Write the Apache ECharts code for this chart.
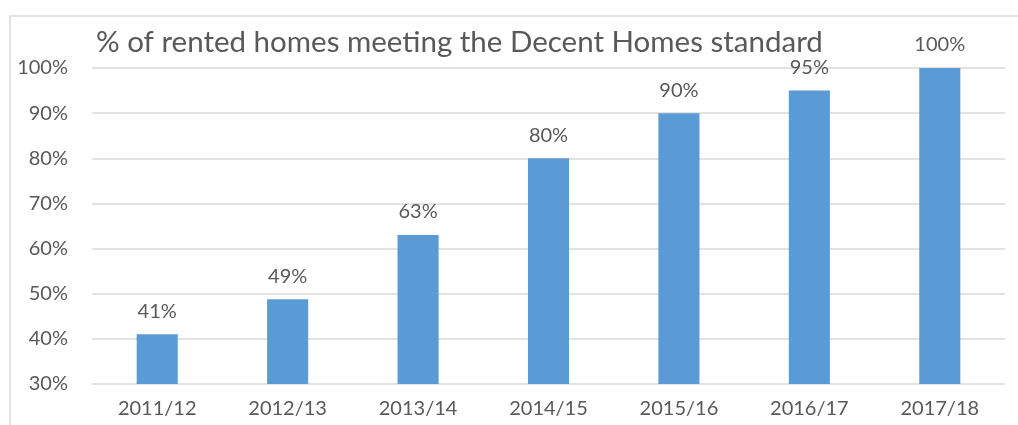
<!DOCTYPE html>
<html lang="en">
<head>
    <meta charset="UTF-8">
    <title>Decent Homes standard</title>
    <script src="https://cdn.jsdelivr.net/npm/echarts@6/dist/echarts.min.js" type="text/javascript"></script>
    <style>
        html, body { margin: 0; padding: 0; background: #fff; }
    </style>
</head>
<body>
<div id="main" style="width: 1018px;height:425px;"></div>
<script type="text/javascript">
    // data
    var years = ['2011/12', '2012/13', '2013/14', '2014/15', '2015/16', '2016/17', '2017/18'];
    var percentMeeting = [41, 48.8, 63, 80, 90, 95, 100];
    var yTicks = [30, 40, 50, 60, 70, 80, 90, 100];

    var textColor = '#595959';
    var myChart = echarts.init(document.getElementById('main'));
    myChart.setOption({
        animation: false,
        textStyle: { fontFamily: 'Lato' },
        title: {
            text: '% of rented homes meeting the Decent Homes standard',
            left: 91,
            top: 22,
            textStyle: { fontFamily: 'Lato', fontSize: 29.5, fontWeight: 'normal', color: textColor }
        },
        // chart frame (only the left and top edges are in view)
        graphic: [{
            type: 'rect',
            shape: { x: 10, y: 16, width: 1100, height: 500 },
            style: { fill: 'none', stroke: '#d9d9d9', lineWidth: 1.5 },
            silent: true
        }],
        grid: { left: 92, right: 13, top: 68, bottom: 41 },
        xAxis: {
            type: 'category',
            data: years,
            axisLine: { show: false },
            axisTick: { show: false },
            axisLabel: { color: textColor, fontSize: 20, margin: 15 }
        },
        yAxis: {
            type: 'value',
            min: yTicks[0],
            max: yTicks[yTicks.length - 1],
            interval: 10,
            axisLine: { show: false },
            axisTick: { show: false },
            axisLabel: { color: textColor, fontSize: 20, margin: 24, formatter: '{value}%' },
            splitLine: { lineStyle: { color: '#d9d9d9', width: 1.5 } }
        },
        series: [{
            type: 'bar',
            data: percentMeeting,
            barWidth: '31.5%',
            itemStyle: { color: '#5b9bd5' },
            label: {
                show: true,
                position: 'top',
                distance: 13,
                color: textColor,
                fontSize: 20,
                formatter: function (p) { return Math.round(p.value) + '%'; }
            }
        }]
    });
</script>
</body>
</html>
